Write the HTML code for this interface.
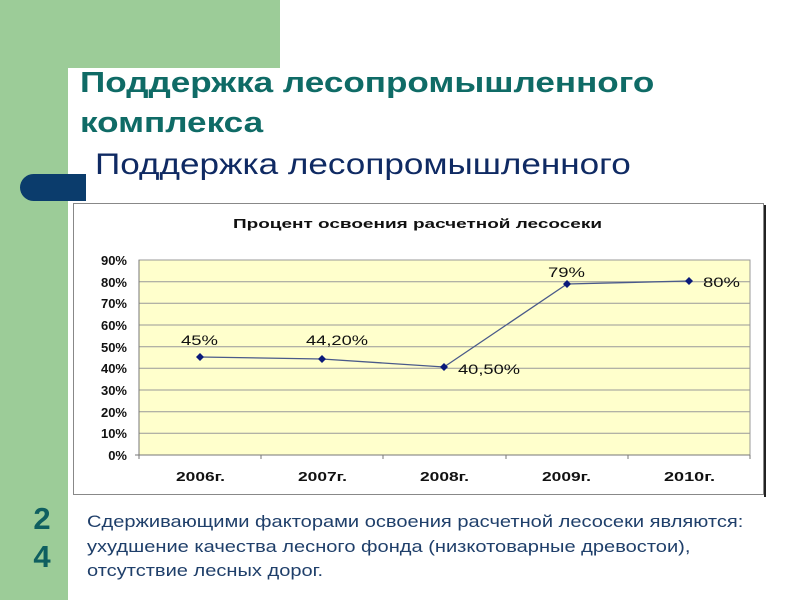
<!DOCTYPE html>
<html><head><meta charset="utf-8"><style>
body{margin:0;width:800px;height:600px;position:relative;overflow:hidden;background:#fff;font-family:"Liberation Sans",sans-serif}
.g1{position:absolute;left:0;top:0;width:280px;height:68px;background:#9ccc98}
.g2{position:absolute;left:0;top:0;width:68px;height:600px;background:#9ccc98}
.wc{position:absolute;left:68px;top:68px;width:40px;height:40px;background:#fff;border-top-left-radius:22px}
.pill{position:absolute;left:20px;top:174px;width:66px;height:27px;background:#0b3c6c;border-radius:14px 0 0 14px}
.t1{position:absolute;left:80px;top:63px;font-size:29px;font-weight:bold;color:#0f6b66;line-height:40px;white-space:nowrap;transform:scaleX(1.21);transform-origin:0 0}
.t2{position:absolute;left:95px;top:148px;font-size:30px;color:#0f2a63;white-space:nowrap;transform:scaleX(1.17);transform-origin:0 0}
.num{position:absolute;left:27px;top:500px;font-size:31px;font-weight:bold;color:#0f5f60;line-height:38px;width:30px;text-align:center}
.txt{position:absolute;left:87px;top:510px;font-size:17px;color:#1f3f6a;line-height:24.5px;white-space:nowrap;transform:scaleX(1.18);transform-origin:0 0}
</style></head><body>
<div class="g1"></div><div class="g2"></div><div class="wc"></div>
<div class="pill"></div>
<div class="t1">Поддержка лесопромышленного<br>комплекса</div>
<div class="t2">Поддержка лесопромышленного</div>
<svg style="position:absolute;left:0;top:0" width="800" height="600">
<rect x="73.5" y="203.5" width="690" height="291" fill="#fff" stroke="#888"/>
<line x1="765" y1="205" x2="765" y2="497" stroke="#222" stroke-width="2"/>
<text x="233" y="228" font-size="13" font-weight="bold" fill="#111" textLength="369" lengthAdjust="spacingAndGlyphs">Процент освоения расчетной лесосеки</text>
<rect x="139" y="260" width="611" height="195" fill="#ffffcc" stroke="#999"/>
<g stroke="#999" stroke-width="1">
<line x1="139" x2="750" y1="281.7" y2="281.7"/><line x1="139" x2="750" y1="303.3" y2="303.3"/>
<line x1="139" x2="750" y1="325" y2="325"/><line x1="139" x2="750" y1="346.7" y2="346.7"/>
<line x1="139" x2="750" y1="368.3" y2="368.3"/><line x1="139" x2="750" y1="390" y2="390"/>
<line x1="139" x2="750" y1="411.7" y2="411.7"/><line x1="139" x2="750" y1="433.3" y2="433.3"/>
</g>
<g stroke="#777"><line x1="139" x2="139" y1="260" y2="459"/><line x1="135" x2="750" y1="455" y2="455"/>
<line x1="261" x2="261" y1="455" y2="459"/><line x1="383" x2="383" y1="455" y2="459"/><line x1="506" x2="506" y1="455" y2="459"/><line x1="628" x2="628" y1="455" y2="459"/><line x1="750" x2="750" y1="455" y2="459"/></g>
<g font-size="13" font-weight="bold" fill="#111" text-anchor="end">
<text x="127" y="265">90%</text><text x="127" y="287">80%</text><text x="127" y="308">70%</text><text x="127" y="330">60%</text><text x="127" y="352">50%</text><text x="127" y="373">40%</text><text x="127" y="395">30%</text><text x="127" y="417">20%</text><text x="127" y="438">10%</text><text x="127" y="460">0%</text>
</g>
<g font-size="13" font-weight="bold" fill="#111">
<text x="176" y="481" textLength="49" lengthAdjust="spacingAndGlyphs">2006г.</text><text x="298" y="481" textLength="49" lengthAdjust="spacingAndGlyphs">2007г.</text><text x="420" y="481" textLength="49" lengthAdjust="spacingAndGlyphs">2008г.</text><text x="542" y="481" textLength="49" lengthAdjust="spacingAndGlyphs">2009г.</text><text x="664" y="481" textLength="51" lengthAdjust="spacingAndGlyphs">2010г.</text>
</g>
<polyline points="200,357 322,359 444,367 567,284 689,281" fill="none" stroke="#4a5a8a" stroke-width="1.3"/>
<g fill="#0a1a7a">
<path d="M200 353l4 4-4 4-4-4z"/><path d="M322 355l4 4-4 4-4-4z"/><path d="M444 363l4 4-4 4-4-4z"/><path d="M567 280l4 4-4 4-4-4z"/><path d="M689 277l4 4-4 4-4-4z"/>
</g>
<g font-size="14" fill="#111">
<text x="181" y="345" textLength="37" lengthAdjust="spacingAndGlyphs">45%</text><text x="306" y="345" textLength="62" lengthAdjust="spacingAndGlyphs">44,20%</text>
<text x="458" y="374" textLength="62" lengthAdjust="spacingAndGlyphs">40,50%</text><text x="548" y="277" textLength="37" lengthAdjust="spacingAndGlyphs">79%</text><text x="703" y="287" textLength="37" lengthAdjust="spacingAndGlyphs">80%</text>
</g>
</svg>
<div class="num">2<br>4</div>
<div class="txt">Сдерживающими факторами освоения расчетной лесосеки являются:<br>ухудшение качества лесного фонда (низкотоварные древостои),<br>отсутствие лесных дорог.</div>
</body></html>
